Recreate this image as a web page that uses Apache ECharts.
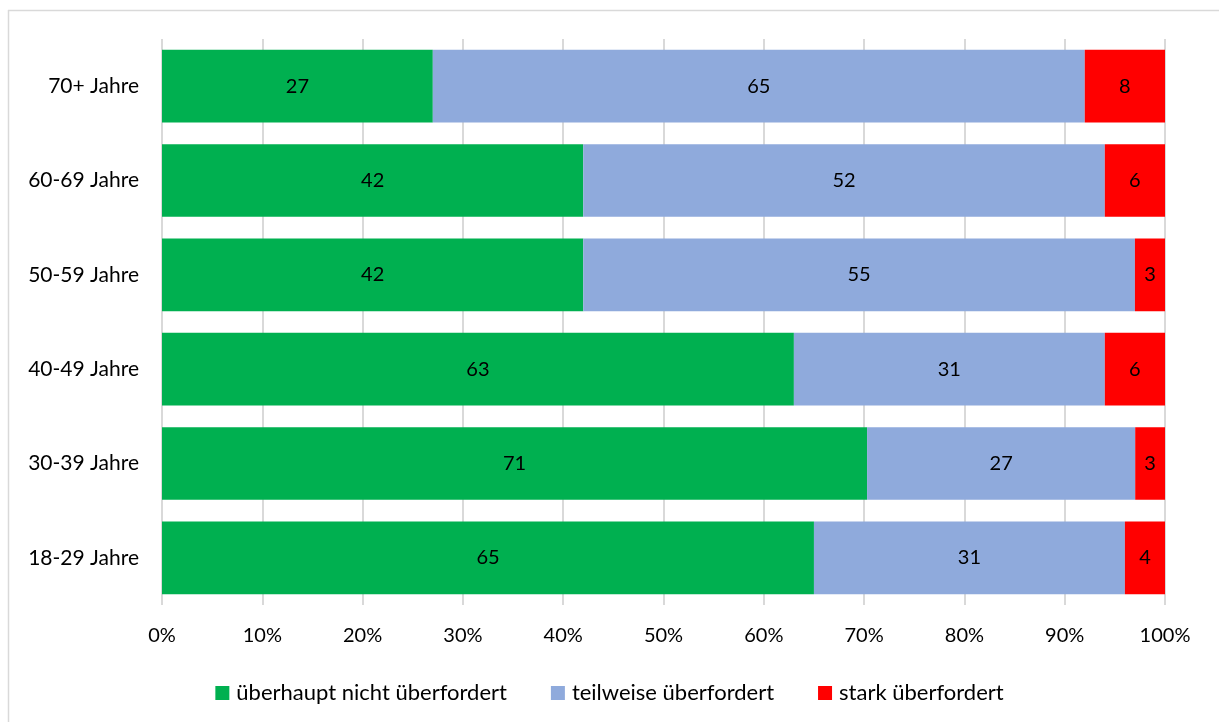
<!DOCTYPE html>
<html>
<head>
<meta charset="utf-8">
<script src="https://cdn.jsdelivr.net/npm/echarts@6/dist/echarts.min.js"></script>
<style>
  html, body { margin: 0; padding: 0; background: #fff; }
  #chart { width: 1219px; height: 722px; }
</style>
</head>
<body>
<div id="chart"></div>
<script>
// Age groups, bottom to top
const categories = ['18-29 Jahre', '30-39 Jahre', '40-49 Jahre', '50-59 Jahre', '60-69 Jahre', '70+ Jahre'];
const seriesNames = ['überhaupt nicht überfordert', 'teilweise überfordert', 'stark überfordert'];
const notOverwhelmed = [65, 71, 63, 42, 42, 27];
const partly = [31, 27, 31, 55, 52, 65];
const strongly = [4, 3, 6, 3, 6, 8];
const tickLabels = ['0%', '10%', '20%', '30%', '40%', '50%', '60%', '70%', '80%', '90%', '100%'];

const colors = ['#00B050', '#8FAADC', '#FF0000'];
const FONT = 'Lato';

// 100% stacked: each bar's share of its row total, label shows the stated value
const rows = [notOverwhelmed, partly, strongly];
const totals = categories.map((_, i) => rows.reduce((s, r) => s + r[i], 0));

const series = rows.map((vals, k) => ({
  name: seriesNames[k],
  type: 'bar',
  stack: 'total',
  barCategoryGap: '23%',
  itemStyle: { color: colors[k] },
  label: {
    show: true,
    position: 'inside',
    color: '#000',
    fontFamily: FONT,
    fontSize: 20,
    formatter: p => String(vals[p.dataIndex])
  },
  emphasis: { disabled: true },
  data: vals.map((v, i) => v / totals[i] * 100)
}));

const chart = echarts.init(document.getElementById('chart'), null, { renderer: 'canvas' });
chart.setOption({
  animation: false,
  textStyle: { fontFamily: FONT },
  grid: { left: 162, right: 54, top: 39, bottom: 117, containLabel: false },
  xAxis: {
    type: 'value',
    min: 0,
    max: 100,
    interval: 10,
    axisLine: { show: false },
    axisTick: { show: false },
    splitLine: { show: true, lineStyle: { color: '#D9D9D9', width: 2 } },
    axisLabel: {
      color: '#000',
      fontFamily: FONT,
      fontSize: 20,
      margin: 21,
      formatter: v => tickLabels[Math.round(v / 10)]
    }
  },
  yAxis: {
    type: 'category',
    data: categories,
    axisLine: { show: false },
    axisTick: { show: false },
    axisLabel: { color: '#000', fontFamily: FONT, fontSize: 21, margin: 23 }
  },
  legend: {
    data: seriesNames,
    left: 'center',
    top: 677,
    icon: 'rect',
    itemWidth: 14,
    itemHeight: 14,
    itemGap: 44,
    textStyle: { color: '#000', fontFamily: FONT, fontSize: 22, padding: [0, 0, 0, 2] },
    selectedMode: false
  },
  graphic: [
    { type: 'line', shape: { x1: 8, y1: 10.5, x2: 1219, y2: 10.5 }, style: { stroke: '#D9D9D9', lineWidth: 1.5 }, silent: true },
    { type: 'line', shape: { x1: 8.5, y1: 10, x2: 8.5, y2: 722 }, style: { stroke: '#D9D9D9', lineWidth: 1.5 }, silent: true }
  ],
  series: series
});
</script>
</body>
</html>
